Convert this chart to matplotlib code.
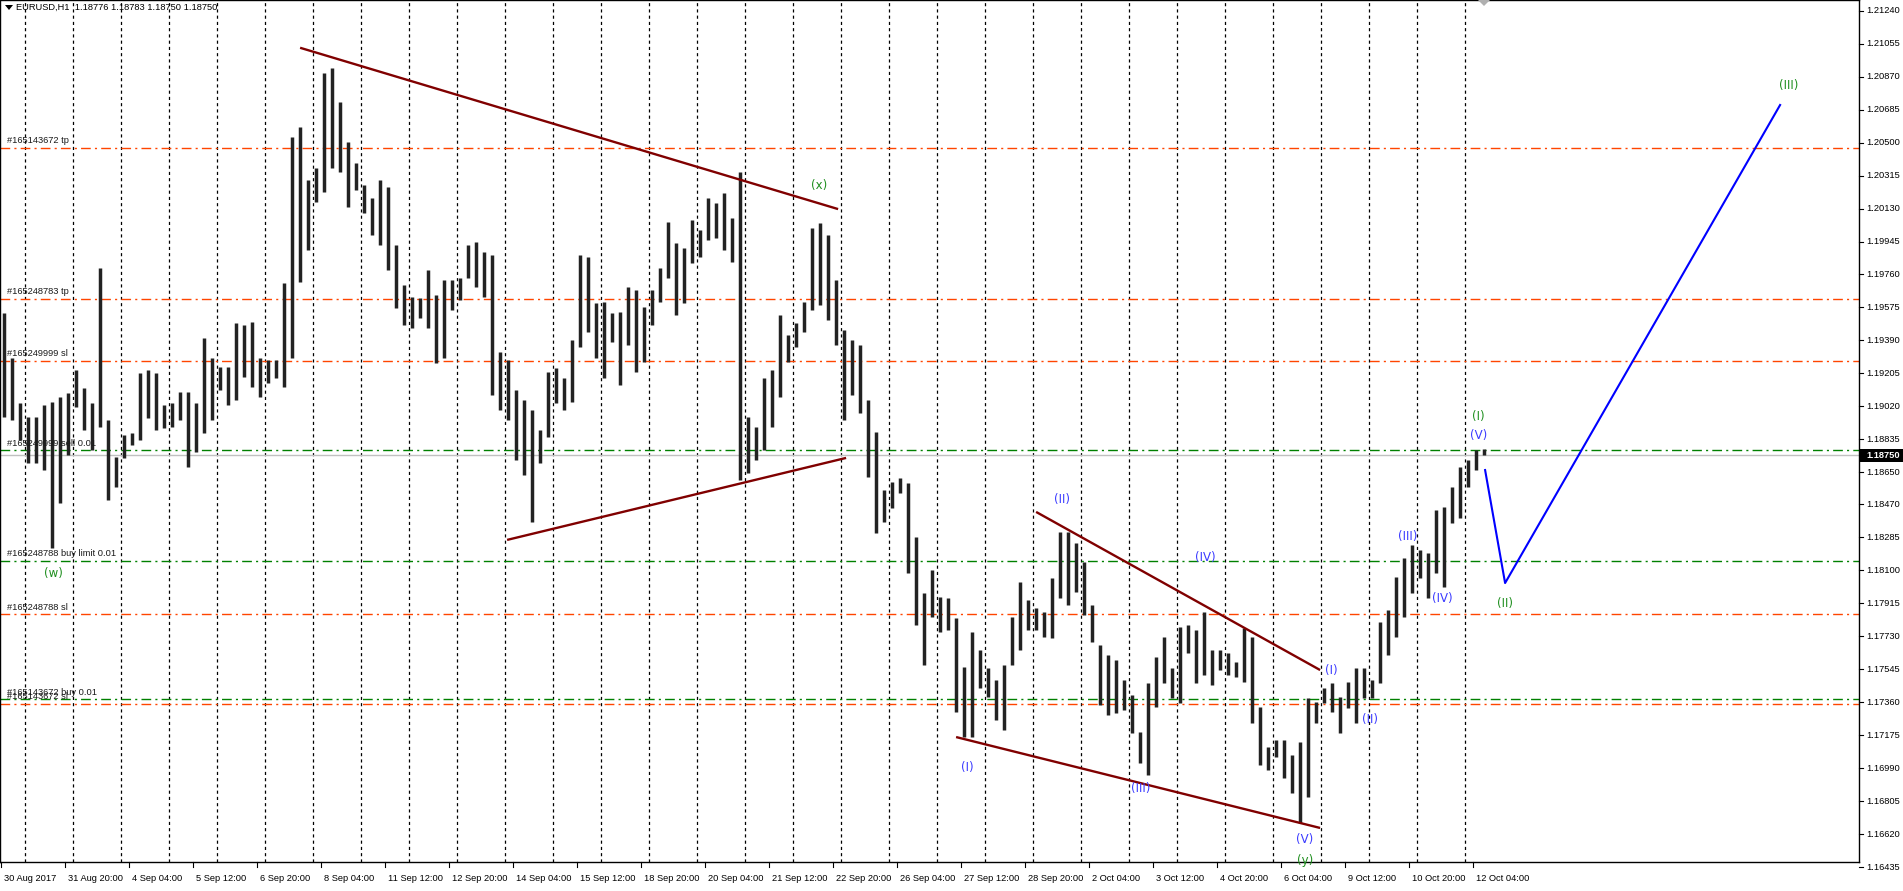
import matplotlib
matplotlib.use("Agg")
import matplotlib.pyplot as plt
from matplotlib.transforms import blended_transform_factory
from matplotlib.lines import Line2D
from matplotlib.patches import Rectangle, Polygon

# ---------------- data ----------------
symbol_title = "EURUSD,H1  1.18776 1.18783 1.18750 1.18750"
bid_price = 1.18750
bars_per_group = 4          # each drawn bar aggregates 4 hourly bars

highs = [1.19544, 1.19292, 1.19039, 1.18961, 1.18961, 1.19028, 1.19045, 1.19073, 1.19095, 1.19224,
         1.19123, 1.19039, 1.19797, 1.18944, 1.18736, 1.18860, 1.18871, 1.19207, 1.19224, 1.19207,
         1.19028, 1.19039, 1.19101, 1.19101, 1.19039, 1.19404, 1.19292, 1.19241, 1.19241, 1.19488,
         1.19477, 1.19494, 1.19292, 1.19280, 1.19280, 1.19712, 1.20531, 1.20588, 1.20290, 1.20358,
         1.20890, 1.20919, 1.20728, 1.20503, 1.20386, 1.20262, 1.20189, 1.20290, 1.20251, 1.19926,
         1.19701, 1.19634, 1.19628, 1.19785, 1.19645, 1.19729, 1.19729, 1.19740, 1.19926, 1.19942,
         1.19886, 1.19869, 1.19325, 1.19280, 1.19112, 1.19056, 1.19000, 1.18888, 1.19213, 1.19236,
         1.19179, 1.19393, 1.19869, 1.19858, 1.19600, 1.19606, 1.19544, 1.19550, 1.19690, 1.19673,
         1.19578, 1.19673, 1.19797, 1.20055, 1.19937, 1.19909, 1.20066, 1.20010, 1.20189, 1.20161,
         1.20217, 1.20077, 1.20335, 1.18961, 1.18905, 1.19179, 1.19224, 1.19533, 1.19421, 1.19488,
         1.19606, 1.20021, 1.20049, 1.19982, 1.19729, 1.19449, 1.19393, 1.19365, 1.19056, 1.18876,
         1.18551, 1.18596, 1.18618, 1.18590, 1.18287, 1.17973, 1.18102, 1.17951, 1.17945, 1.17833,
         1.17558, 1.17754, 1.17653, 1.17553, 1.17485, 1.17569, 1.17839, 1.18035, 1.17934, 1.17889,
         1.17867, 1.18057, 1.18315, 1.18315, 1.18254, 1.18147, 1.17906, 1.17682, 1.17625, 1.17597,
         1.17485, 1.17401, 1.17193, 1.17468, 1.17614, 1.17726, 1.17553, 1.17783, 1.17794, 1.17766,
         1.17867, 1.17653, 1.17653, 1.17637, 1.17586, 1.17777, 1.17726, 1.17334, 1.17109, 1.17149,
         1.17149, 1.17064, 1.17137, 1.17384, 1.17362, 1.17440, 1.17468, 1.17390, 1.17474, 1.17553,
         1.17553, 1.17485, 1.17811, 1.17878, 1.18063, 1.18170, 1.18243, 1.18214, 1.18198, 1.18439,
         1.18456, 1.18568, 1.18680, 1.18719, 1.18775, 1.18783]

lows = [1.18961, 1.18944, 1.18832, 1.18703, 1.18703, 1.18663, 1.18226, 1.18478, 1.18747, 1.19017,
        1.18888, 1.18775, 1.18905, 1.18495, 1.18568, 1.18731, 1.18804, 1.18832, 1.18955, 1.18888,
        1.18899, 1.18905, 1.18944, 1.18680, 1.18764, 1.18871, 1.18944, 1.19112, 1.19028, 1.19056,
        1.19185, 1.19129, 1.19073, 1.19151, 1.19179, 1.19129, 1.19292, 1.19718, 1.19897, 1.20167,
        1.20223, 1.20358, 1.20335, 1.20139, 1.20234, 1.20105, 1.19982, 1.19926, 1.19785, 1.19572,
        1.19477, 1.19460, 1.19516, 1.19460, 1.19264, 1.19292, 1.19561, 1.19617, 1.19740, 1.19690,
        1.19634, 1.19084, 1.19000, 1.18944, 1.18719, 1.18635, 1.18372, 1.18703, 1.18848, 1.19039,
        1.19000, 1.19045, 1.19353, 1.19437, 1.19292, 1.19179, 1.19381, 1.19140, 1.19365, 1.19213,
        1.19269, 1.19477, 1.19606, 1.19740, 1.19533, 1.19600, 1.19825, 1.19858, 1.19954, 1.19965,
        1.19897, 1.19830, 1.18607, 1.18646, 1.18719, 1.18775, 1.18905, 1.19073, 1.19269, 1.19353,
        1.19437, 1.19561, 1.19589, 1.19505, 1.19365, 1.18944, 1.19084, 1.18983, 1.18624, 1.18310,
        1.18372, 1.18450, 1.18534, 1.18085, 1.17794, 1.17569, 1.17839, 1.17754, 1.17766, 1.17306,
        1.17165, 1.17165, 1.17440, 1.17390, 1.17261, 1.17205, 1.17569, 1.17653, 1.17766, 1.17766,
        1.17726, 1.17721, 1.17945, 1.17906, 1.17979, 1.17850, 1.17698, 1.17345, 1.17289, 1.17300,
        1.17317, 1.17188, 1.17020, 1.16952, 1.17334, 1.17468, 1.17384, 1.17356, 1.17637, 1.17468,
        1.17513, 1.17457, 1.17541, 1.17513, 1.17502, 1.17474, 1.17244, 1.17008, 1.16980, 1.17053,
        1.16935, 1.16851, 1.16683, 1.16829, 1.17244, 1.17356, 1.17306, 1.17188, 1.17328, 1.17244,
        1.17384, 1.17384, 1.17468, 1.17625, 1.17726, 1.17839, 1.17973, 1.18057, 1.17945, 1.18085,
        1.18007, 1.18366, 1.18394, 1.18568, 1.18663, 1.18750]

date_labels = ["30 Aug 2017", "31 Aug 20:00", "4 Sep 04:00", "5 Sep 12:00", "6 Sep 20:00",
               "8 Sep 04:00", "11 Sep 12:00", "12 Sep 20:00", "14 Sep 04:00", "15 Sep 12:00",
               "18 Sep 20:00", "20 Sep 04:00", "21 Sep 12:00", "22 Sep 20:00", "26 Sep 04:00",
               "27 Sep 12:00", "28 Sep 20:00", "2 Oct 04:00", "3 Oct 12:00", "4 Oct 20:00",
               "6 Oct 04:00", "9 Oct 12:00", "10 Oct 20:00", "12 Oct 04:00"]
label_every_bars = 32
day_separator_bars = list(range(12, 741, 24))

price_labels = [1.21240, 1.21055, 1.20870, 1.20685, 1.20500, 1.20315, 1.20130, 1.19945, 1.19760,
                1.19575, 1.19390, 1.19205, 1.19020, 1.18835, 1.18650, 1.18470, 1.18285, 1.18100,
                1.17915, 1.17730, 1.17545, 1.17360, 1.17175, 1.16990, 1.16805, 1.16620, 1.16435]

# order lines: (price, label, kind)
order_lines = [(1.20470, "#165143672 tp", "red"),
               (1.19623, "#165248783 tp", "red"),
               (1.19275, "#165249999 sl", "red"),
               (1.18775, "#165249999 sell 0.01", "green"),
               (1.18153, "#165248788 buy limit 0.01", "green"),
               (1.17853, "#165248788 sl", "red"),
               (1.17377, "#165143672 buy 0.01", "green"),
               (1.17351, "#165143672 sl", "red")]

# trend lines: (bar, price) anchors
trend_lines = [((149.4, 1.21032), (418.4, 1.20127)),
               ((252.9, 1.18271), (422.4, 1.18731)),
               ((517.4, 1.18428), (659.4, 1.17541)),
               ((477.4, 1.17165), (659.4, 1.16655))]

projection_bars = [741.9, 751.9, 889.4]
projection_prices = [1.18663, 1.18029, 1.20711]

wave_labels_green = [("(w)", 25.9, 1.18080), ("(x)", 408.9, 1.20262), ("(y)", 651.9, 1.16475),
                     ("(I)", 738.4, 1.18966), ("(II)", 751.9, 1.17917), ("(III)", 893.9, 1.20823)]
wave_labels_blue = [("(I)", 482.9, 1.16992), ("(II)", 530.4, 1.18495), ("(III)", 569.9, 1.16874),
                    ("(IV)", 601.9, 1.18170), ("(V)", 651.9, 1.16588), ("(I)", 664.9, 1.17541),
                    ("(II)", 684.4, 1.17266), ("(III)", 703.4, 1.18290), ("(IV)", 720.4, 1.17945),
                    ("(V)", 738.9, 1.18854)]

# ---------------- figure ----------------
W, H, DPI = 1903, 891, 100
fig = plt.figure(figsize=(W / DPI, H / DPI), dpi=DPI)
fig.patch.set_facecolor("white")
ax_right_px, ax_bottom_px = 1859.3, 862.0
ax = fig.add_axes([0, (H - ax_bottom_px) / H, ax_right_px / W, ax_bottom_px / H])
ax.set_facecolor("white")

px_per_bar = 2.0
x0_px = 1.3
xmin = (0 - x0_px) / px_per_bar
xmax = (ax_right_px - x0_px) / px_per_bar
ax.set_xlim(xmin, xmax)
ax.set_ylim(1.16464, 1.21300)
ax.set_xticks([])
ax.set_yticks([])
for s in ax.spines.values():
    s.set_color("black")
    s.set_linewidth(1.0)

FONT = "Liberation Sans"
fs = 6.7

# day separators
for b in day_separator_bars:
    ax.axvline(b, color="black", lw=0.9, ls=(0, (2.5, 2.5)), zorder=1)

# order lines
col = {"red": "#FF4500", "green": "#008000"}
for p, lab, kind in order_lines:
    ax.axhline(p, color=col[kind], lw=1.0, ls=(0, (7, 3, 1.5, 3)), zorder=2)
for p, lab, kind in order_lines:
    ax.annotate(lab, xy=(0, p), xycoords=("axes fraction", "data"), xytext=(7, 2.5),
                textcoords="offset pixels", fontsize=fs, family=FONT, color="#1a1a1a",
                ha="left", va="bottom", zorder=6)

# bid line
ax.axhline(bid_price, color="#C0C0C0", lw=1.0, zorder=2)

# bars (groups of hourly bars)
centers = [g * bars_per_group + (bars_per_group - 1) / 2 for g in range(len(highs))]
ax.vlines(centers, lows, highs, color="#222222", lw=2.5, zorder=4)

# trend lines
for (a, b) in trend_lines:
    ax.plot([a[0], b[0]], [a[1], b[1]], color="#800000", lw=1.7, zorder=5, solid_capstyle="butt")

# projection
ax.plot(projection_bars, projection_prices, color="#0000FF", lw=1.5, zorder=5)

# wave labels
for t, b, p in wave_labels_green:
    ax.text(b, p, t, color="#1F8F1F", fontsize=8.5, family="DejaVu Sans",
            ha="center", va="center", zorder=7, clip_on=False)
for t, b, p in wave_labels_blue:
    ax.text(b, p, t, color="#3A3AFF", fontsize=8.5, family="DejaVu Sans",
            ha="center", va="center", zorder=7, clip_on=False)

# right price scale
tr = blended_transform_factory(ax.transAxes, ax.transData)
for p in price_labels:
    ax.add_line(Line2D([1.0, 1.0 + 4 / ax_right_px], [p, p], transform=tr, color="black",
                       lw=0.8, clip_on=False))
    ax.text(1.0 + 7 / ax_right_px, p, f"{p:.5f}", transform=tr, fontsize=fs, family=FONT,
            color="black", ha="left", va="center", clip_on=False)

# bid price box
fig.patches.append(Rectangle((ax_right_px / W, (H - 462) / H), (W - ax_right_px) / W, 13 / H,
                             transform=fig.transFigure, facecolor="black", edgecolor="none"))
fig.text((ax_right_px + 7) / W, (H - 455.5) / H, f"{bid_price:.5f}", color="white",
         fontsize=fs, family=FONT, ha="left", va="center", fontweight="bold")

# bottom time scale
trx = blended_transform_factory(ax.transData, ax.transAxes)
for i, lab in enumerate(date_labels):
    b = i * label_every_bars
    ax.add_line(Line2D([b, b], [0, -5 / ax_bottom_px], transform=trx, color="black",
                       lw=0.8, clip_on=False))
    ax.annotate(lab, xy=(b, 0), xycoords=trx, xytext=(3, -21), textcoords="offset pixels",
                fontsize=fs, family=FONT, color="black", ha="left", va="bottom",
                annotation_clip=False)

# title
fig.patches.append(Polygon([[5 / W, (H - 5) / H], [13 / W, (H - 5) / H], [9 / W, (H - 10) / H]],
                           closed=True, transform=fig.transFigure, facecolor="black"))
fig.text(16 / W, (H - 7.5) / H, symbol_title, fontsize=fs, family=FONT, color="black",
         ha="left", va="center")

# chart shift marker
fig.patches.append(Polygon([[1478 / W, 1.0], [1490 / W, 1.0], [1484 / W, (H - 6) / H]],
                           closed=True, transform=fig.transFigure, facecolor="#B0B0B0",
                           edgecolor="none"))

fig.savefig("out.png", dpi=DPI, facecolor="white")
